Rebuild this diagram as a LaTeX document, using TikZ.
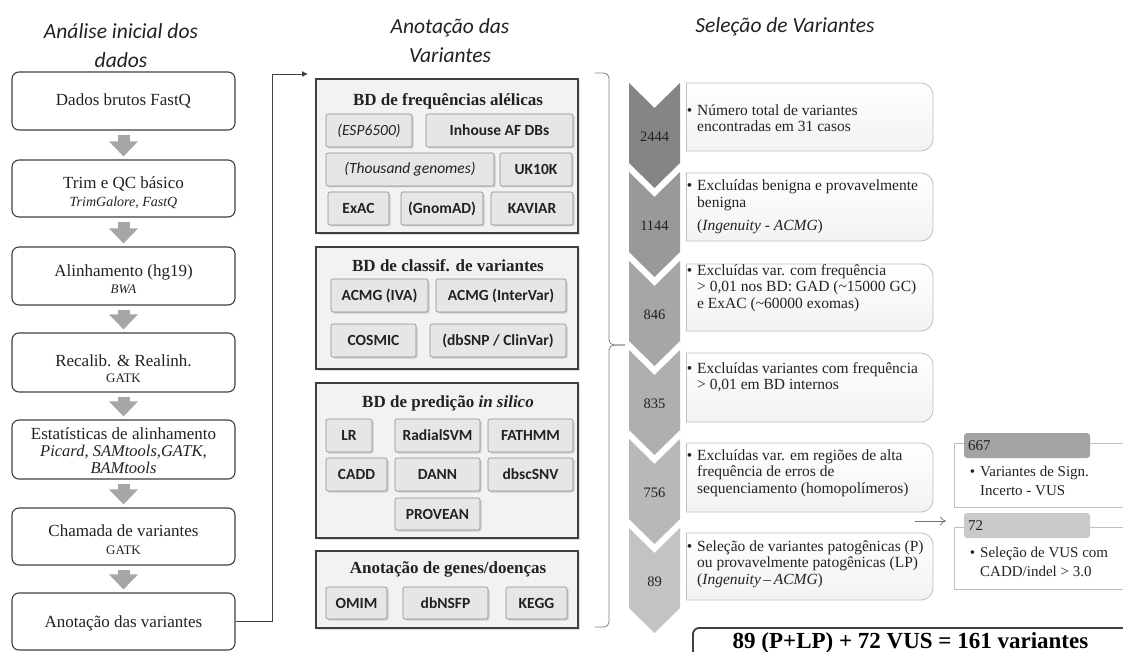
\documentclass[tikz,border=0pt]{standalone}
\usepackage{fontspec}
\setmainfont{Liberation Serif}
\newfontfamily\carl{Carlito}
\usetikzlibrary{shadows,arrows.meta}
\definecolor{boxline}{HTML}{404040}
\definecolor{arrgray}{HTML}{A6A6A6}
\definecolor{panelfill}{HTML}{F2F2F2}
\definecolor{panelline}{HTML}{3F3F3F}
\definecolor{innerfill}{HTML}{E6E6E6}
\definecolor{innerline}{HTML}{8C8C8C}
\definecolor{selline}{HTML}{BFBFBF}
\definecolor{inktext}{HTML}{222222}
\definecolor{chevA}{HTML}{858585}
\definecolor{chevB}{HTML}{999999}
\definecolor{chevC}{HTML}{A6A6A6}
\definecolor{chevD}{HTML}{AFAFAF}
\definecolor{chevE}{HTML}{B8B8B8}
\definecolor{chevF}{HTML}{C3C3C3}
\definecolor{headA}{HTML}{A3A3A3}
\definecolor{headB}{HTML}{C9C9C9}
\newcommand\bx[7]{\node[#6, minimum width={(#4-#2)*1pt}, minimum height={(#5-#3)*1pt}] (#1) at ({(#2+#4)/2},{(#3+#5)/2}) {#7};}
\newcommand\chev[4]{%
  \fill[#2] (629,#1) -- (654.5,#1+25) -- (680,#1) -- (680,#1+80) -- (654.5,#1+105) -- (629,#1+80) -- cycle;
  \node[chevlab] (#3) at (654.5,#1+54) {#4};}
\newcommand\selshape[2]{%
  \shade[top color=white, bottom color=black!5, rounded corners=12pt] (686,#1) -- (933,#1) -- (933,#2) -- (686,#2);
  \draw[selline, line width=0.8pt, rounded corners=12pt] (686,#1) -- (933,#1) -- (933,#2) -- (686,#2);
  \draw[selline, line width=0.8pt] (686,#1) -- (686,#2);}
\newcommand\lift[1]{\rule{0pt}{#1pt}}
\tikzset{
  lbox/.style={draw=boxline, line width=1.1pt, rounded corners=7pt, fill=white, align=center, inner sep=0pt, text=inktext, font=\fontsize{17}{18.5}\selectfont},
  downarr/.style={arrgray, line width=12pt, -{Triangle[length=15pt, width=28pt]}},
  panel/.style={draw=panelline, fill=panelfill, line width=1.1pt, inner sep=0pt, drop shadow={shadow xshift=2pt, shadow yshift=-2pt, opacity=0.25}},
  ibox/.style={draw=innerline, fill=innerfill, line width=0.6pt, rounded corners=2pt, inner sep=0pt, text=inktext, font=\carl\bfseries\fontsize{15.5}{17}\selectfont, drop shadow={shadow xshift=1.5pt, shadow yshift=-1.5pt, opacity=0.3}},
  iboxit/.style={ibox, font=\carl\itshape\fontsize{15.5}{17}\selectfont},
  ptitle/.style={inner sep=0pt, text=inktext, font=\bfseries\fontsize{17}{19}\selectfont},
  coltitle/.style={inner sep=0pt, align=center, text=inktext, font=\carl\itshape\fontsize{21.5}{29}\selectfont},
  chevlab/.style={inner sep=0pt, text=inktext, font=\fontsize{14.5}{16}\selectfont},
  seltext/.style={anchor=west, align=left, inner sep=0pt, text=inktext, font=\fontsize{15.5}{16.5}\selectfont},
  vustext/.style={anchor=west, align=left, inner sep=0pt, text=inktext, font=\fontsize{15}{19}\selectfont},
  vushead/.style={anchor=west, inner sep=0pt, text=inktext, font=\fontsize{15}{17}\selectfont},
}
\begin{document}
\begin{tikzpicture}[x=1pt, y=-1pt]
\clip (0,0) rectangle (1123,652);
\fill[white] (0,0) rectangle (1123,652);

% column titles
\node[coltitle] (tA) at (121,46) {Análise inicial dos\\dados};
\node[coltitle] (tB) at (450,41) {Anotação das\\Variantes};
\node[coltitle] (tC) at (785,27) {Seleção de Variantes};

% left column
\bx{lb1}{12}{72}{235}{130}{lbox}{Dados brutos FastQ}
\bx{lb2}{12}{160}{235}{217}{lbox}{\lift{20}Trim e QC básico\\[-1pt]{\fontsize{14}{15}\selectfont\itshape TrimGalore, FastQ}}
\bx{lb3}{12}{247}{235}{305}{lbox}{\lift{18}Alinhamento (hg19)\\[-2pt]{\fontsize{13}{14}\selectfont\itshape BWA}}
\bx{lb4}{12}{333}{235}{392}{lbox}{\lift{24}Recalib. \& Realinh.\\[-2pt]{\fontsize{13}{14}\selectfont GATK}}
\bx{lb5}{12}{420}{235}{479}{lbox}{\lift{14}Estatísticas de alinhamento\\[-1pt]{\fontsize{16.5}{17}\selectfont\itshape Picard, SAMtools,GATK,}\\[-2pt]{\fontsize{16.5}{17}\selectfont\itshape BAMtools}}
\bx{lb6}{12}{508}{235}{565}{lbox}{\lift{18}Chamada de variantes\\[-1pt]{\fontsize{13}{14}\selectfont GATK}}
\bx{lb7}{12}{593}{235}{650}{lbox}{\lift{16}Anotação das variantes}

\draw[downarr] ([yshift=-4pt]lb1.south) -- ([yshift=3pt]lb2.north);
\draw[downarr] ([yshift=-4pt]lb2.south) -- ([yshift=3pt]lb3.north);
\draw[downarr] ([yshift=-4pt]lb3.south) -- ([yshift=3pt]lb4.north);
\draw[downarr] ([yshift=-4pt]lb4.south) -- ([yshift=3pt]lb5.north);
\draw[downarr] ([yshift=-4pt]lb5.south) -- ([yshift=3pt]lb6.north);
\draw[downarr] ([yshift=-4pt]lb6.south) -- ([yshift=3pt]lb7.north);

% connector to annotation column
\coordinate (turn) at (272,74);
\coordinate (annIn) at (308,74);
\draw[boxline, line width=0.8pt, -{Latex[length=6pt,width=6pt]}] (lb7.east) -| (turn) -- (annIn);

% panels
\bx{p1}{316}{79}{578}{233}{panel}{}
\bx{p2}{316}{247}{578}{369}{panel}{}
\bx{p3}{316}{383}{578}{538}{panel}{}
\bx{p4}{316}{551}{578}{628}{panel}{}

\node[ptitle] (pt1) at (448,101) {BD de frequências alélicas};
\node[ptitle] (pt2) at (448,266) {BD de classif. de variantes};
\node[ptitle] (pt3) at (448,403) {BD de predição \textit{in silico}};
\node[ptitle] (pt4) at (448,569) {Anotação de genes/doenças};

\bx{esp}{326}{114}{412}{147}{iboxit}{(ESP6500)}
\bx{inh}{426}{114}{573}{147}{ibox}{Inhouse AF DBs}
\bx{thg}{326}{153}{494}{186}{iboxit}{(Thousand genomes)}
\bx{ukk}{500}{153}{572}{186}{ibox}{UK10K}
\bx{exac}{328}{192}{389}{225}{ibox}{ExAC}
\bx{gnom}{401}{192}{483}{225}{ibox}{(GnomAD)}
\bx{kav}{491}{192}{573}{225}{ibox}{KAVIAR}

\bx{iva}{331}{279}{428}{312}{ibox}{ACMG (IVA)}
\bx{itv}{436}{279}{566}{312}{ibox}{ACMG (InterVar)}
\bx{cos}{331}{324}{416}{357}{ibox}{COSMIC}
\bx{dbs}{430}{324}{566}{357}{ibox}{(dbSNP / ClinVar)}

\bx{lr}{326}{419}{372}{452}{ibox}{LR}
\bx{rsvm}{395}{419}{480}{452}{ibox}{RadialSVM}
\bx{fat}{488}{419}{573}{452}{ibox}{FATHMM}
\bx{cadd}{326}{458}{387}{491}{ibox}{CADD}
\bx{dann}{395}{458}{480}{491}{ibox}{DANN}
\bx{dbsc}{488}{458}{573}{491}{ibox}{dbscSNV}
\bx{prov}{395}{498}{480}{530}{ibox}{PROVEAN}

\bx{omim}{326}{587}{387}{619}{ibox}{OMIM}
\bx{nsfp}{403}{587}{488}{619}{ibox}{dbNSFP}
\bx{kegg}{506}{587}{567}{619}{ibox}{KEGG}

% brace
\draw[black!50, line width=0.8pt, rounded corners=5pt] (595,73) -- (609,73) -- (609,345) -- (625,345);
\draw[black!50, line width=0.8pt, rounded corners=5pt] (595,627) -- (609,627) -- (609,345) -- (625,345);

% chevrons
\chev{83}{chevA}{c1}{2444}
\chev{172}{chevB}{c2}{1144}
\chev{261}{chevC}{c3}{846}
\chev{350}{chevD}{c4}{835}
\chev{439}{chevE}{c5}{756}
\chev{528}{chevF}{c6}{89}

% selection boxes
\selshape{83}{151}
\selshape{173}{241}
\selshape{264}{331}
\selshape{353}{422}
\selshape{443}{512}
\selshape{533}{600}

\node[seltext] (s1) at (697,118) {\llap{•\hspace{5pt}}Número total de variantes\\encontradas em 31 casos};
\node[seltext] (s2) at (697,207) {\llap{•\hspace{5pt}}Excluídas benigna e provavelmente\\benigna\\[7pt](\textit{Ingenuity} - \textit{ACMG})};
\node[seltext] (s3) at (697,288) {\llap{•\hspace{5pt}}Excluídas var. com frequência\\> 0,01 nos BD: GAD (\textasciitilde15000 GC)\\e ExAC (\textasciitilde60000 exomas)};
\node[seltext] (s4) at (697,377) {\llap{•\hspace{5pt}}Excluídas variantes com frequência\\> 0,01 em BD internos};
\node[seltext] (s5) at (697,473) {\llap{•\hspace{5pt}}Excluídas var. em regiões de alta\\frequência de erros de\\sequenciamento (homopolímeros)};
\node[seltext] (s6) at (697,564) {\llap{•\hspace{5pt}}Seleção de variantes patogênicas (P)\\ou provavelmente patogênicas (LP)\\(\textit{Ingenuity}\,–\,\textit{ACMG})};

% VUS boxes
\bx{v1}{954}{443}{1140}{507}{draw=selline, line width=0.8pt, fill=white}{}
\bx{h1}{964}{433}{1090}{458}{fill=headA, rounded corners=3pt}{}
\node[vushead] (h1t) at (968,445.5) {667};
\node[vustext] (v1t) at (980,480.5) {\llap{•\hspace{5pt}}Variantes de Sign.\\Incerto - VUS};
\bx{v2}{954}{527}{1140}{589}{draw=selline, line width=0.8pt, fill=white}{}
\bx{h2}{964}{513}{1090}{538}{fill=headB, rounded corners=3pt}{}
\node[vushead] (h2t) at (968,525.5) {72};
\node[vustext] (v2t) at (980,562) {\llap{•\hspace{5pt}}Seleção de VUS com\\CADD/indel > 3.0};

\coordinate (aS) at (915,521);
\coordinate (aE) at (946,521);
\draw[black!55, line width=0.7pt, -{To[length=6pt,width=9pt]}] (aS) -- (aE);

% result
\bx{res}{693}{628}{1145}{680}{draw=boxline, line width=1.8pt, rounded corners=6pt, fill=white}{}
\node[anchor=base, inner sep=0pt, text=black, font=\bfseries\fontsize{23}{25}\selectfont] (rest) at (910.5,648) {89 (P+LP) + 72 VUS = 161 variantes};
\end{tikzpicture}
\end{document}
